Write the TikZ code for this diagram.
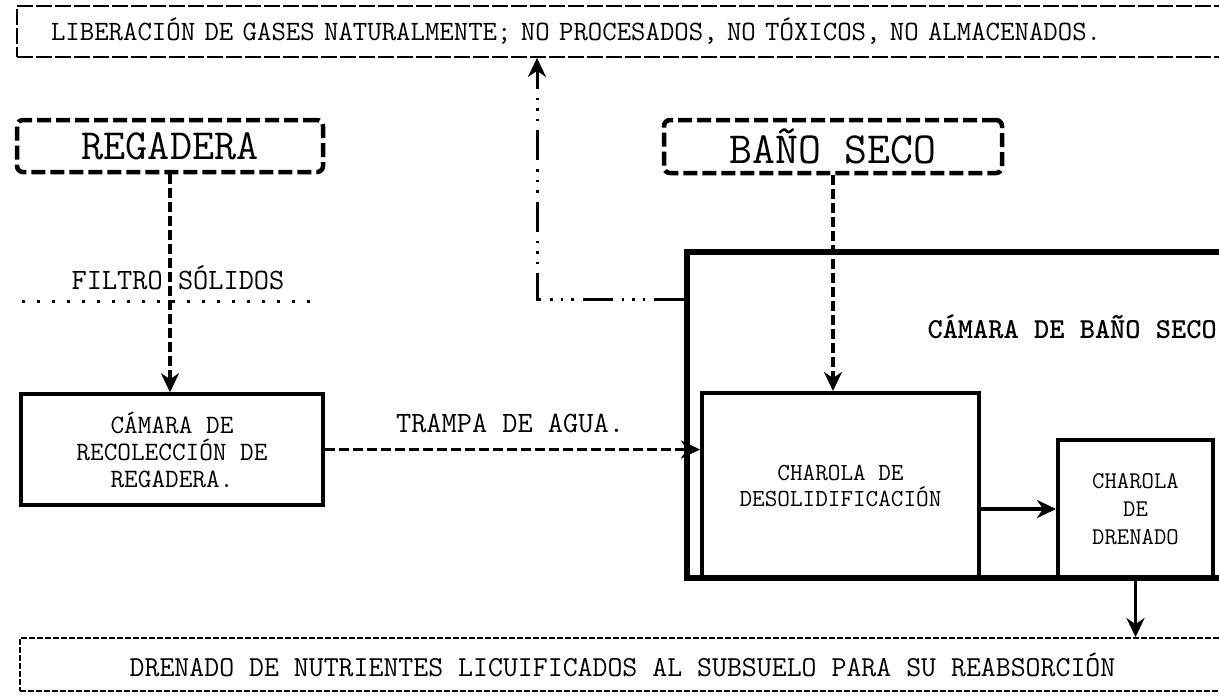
\documentclass[tikz,border=0pt]{standalone}
\usetikzlibrary{arrows.meta,positioning,calc}

\begin{document}
\begin{tikzpicture}[x=1pt, y=-1pt,
  dbox/.style={draw, line width=4.5pt, dash pattern=on 14pt off 5pt, rounded corners=6pt,
               inner sep=0pt, font=\ttfamily\fontsize{43}{46}\selectfont},
  nota/.style={draw, line width=1.8pt, inner sep=0pt, font=\ttfamily\fontsize{28}{30}\selectfont},
  sbox/.style={draw, line width=4pt, inner sep=0pt, align=center,
               font=\ttfamily\fontsize{24.5}{26}\selectfont},
  lbl/.style={inner sep=0pt, font=\ttfamily\fontsize{29.5}{32}\selectfont},
  flow/.style={-{Stealth[length=19pt,width=18pt,inset=6pt]}, line width=3.5pt, dash pattern=on 10pt off 4pt},
  paso/.style={-{Stealth[length=19pt,width=18pt,inset=6pt]}, line width=3.5pt},
  gas/.style={-{Stealth[length=19pt,width=18pt,inset=6pt]}, line width=3pt,
              dash pattern=on 30pt off 9pt on 2.5pt off 8pt on 2.5pt off 8pt on 2.5pt off 9pt}
]
\useasboundingbox (0,0) rectangle (1219,697);

% notas arriba y abajo
\node[nota, dash pattern=on 16pt off 3pt, minimum width=1208pt, minimum height=51pt,
      text width=1140pt, inner xsep=34pt, align=left] (gases) at (621,31.5)
  {LIBERACIÓN DE GASES NATURALMENTE; NO PROCESADOS, NO TÓXICOS, NO ALMACENADOS.};
\node[nota, dash pattern=on 6pt off 2pt, minimum width=1205pt, minimum height=53pt,
      font=\ttfamily\fontsize{29}{30}\selectfont] (nutrientes) at (622.5,664.5)
  {DRENADO DE NUTRIENTES LICUIFICADOS AL SUBSUELO PARA SU REABSORCIÓN};

% regadera
\node[dbox, minimum width=306pt, minimum height=52pt] (regadera) at (170,146) {REGADERA};
\node[lbl] (filtro) at (178,278) {FILTRO SÓLIDOS};
\draw[line width=3pt, dash pattern=on 2.5pt off 12.5pt] (22,301) -- (312,301);
\node[sbox, line width=3.5pt, font=\ttfamily\fontsize{26.5}{27}\selectfont,
      minimum width=302pt, minimum height=111pt] (recol) at (172,449.5)
  {CÁMARA DE\\RECOLECCIÓN DE\\REGADERA.};
\node[lbl] (trampa) at (510,423) {TRAMPA DE AGUA.};

% baño seco
\node[dbox, minimum width=338pt, minimum height=53pt, font=\ttfamily\fontsize{44.5}{46}\selectfont]
  (banoseco) at (833,146.5) {BAÑO SECO};
\node[draw, line width=6pt, minimum width=543pt, minimum height=326pt] (camara) at (958.5,415) {};
\node[inner sep=0pt, anchor=east, font=\ttfamily\bfseries\fontsize{29}{30}\selectfont] (titulo)
  at (1217,327) {CÁMARA DE BAÑO SECO};
\node[sbox, minimum width=277pt, minimum height=185pt] (desol) at (840.5,485.5)
  {CHAROLA DE\\DESOLIDIFICACIÓN};
\node[sbox, minimum width=155pt, minimum height=138pt, font=\ttfamily\fontsize{24}{28}\selectfont]
  (drenado) at (1135.5,509) {CHAROLA\\DE\\DRENADO};

% conexiones
\draw[flow] (regadera.south) -- (regadera.south |- recol.north);
\draw[flow] (recol.east) -- (recol.east -| desol.west);
\draw[flow] (banoseco.south) -- (banoseco.south |- desol.north);
\draw[paso] (drenado.west -| desol.east) -- (drenado.west);
\draw[paso] (drenado.south) -- (drenado.south |- nutrientes.north);
\coordinate (codo) at (537,299);
\draw[gas] (codo -| camara.west) -- (codo) -- (codo |- gases.south);
\end{tikzpicture}
\end{document}
